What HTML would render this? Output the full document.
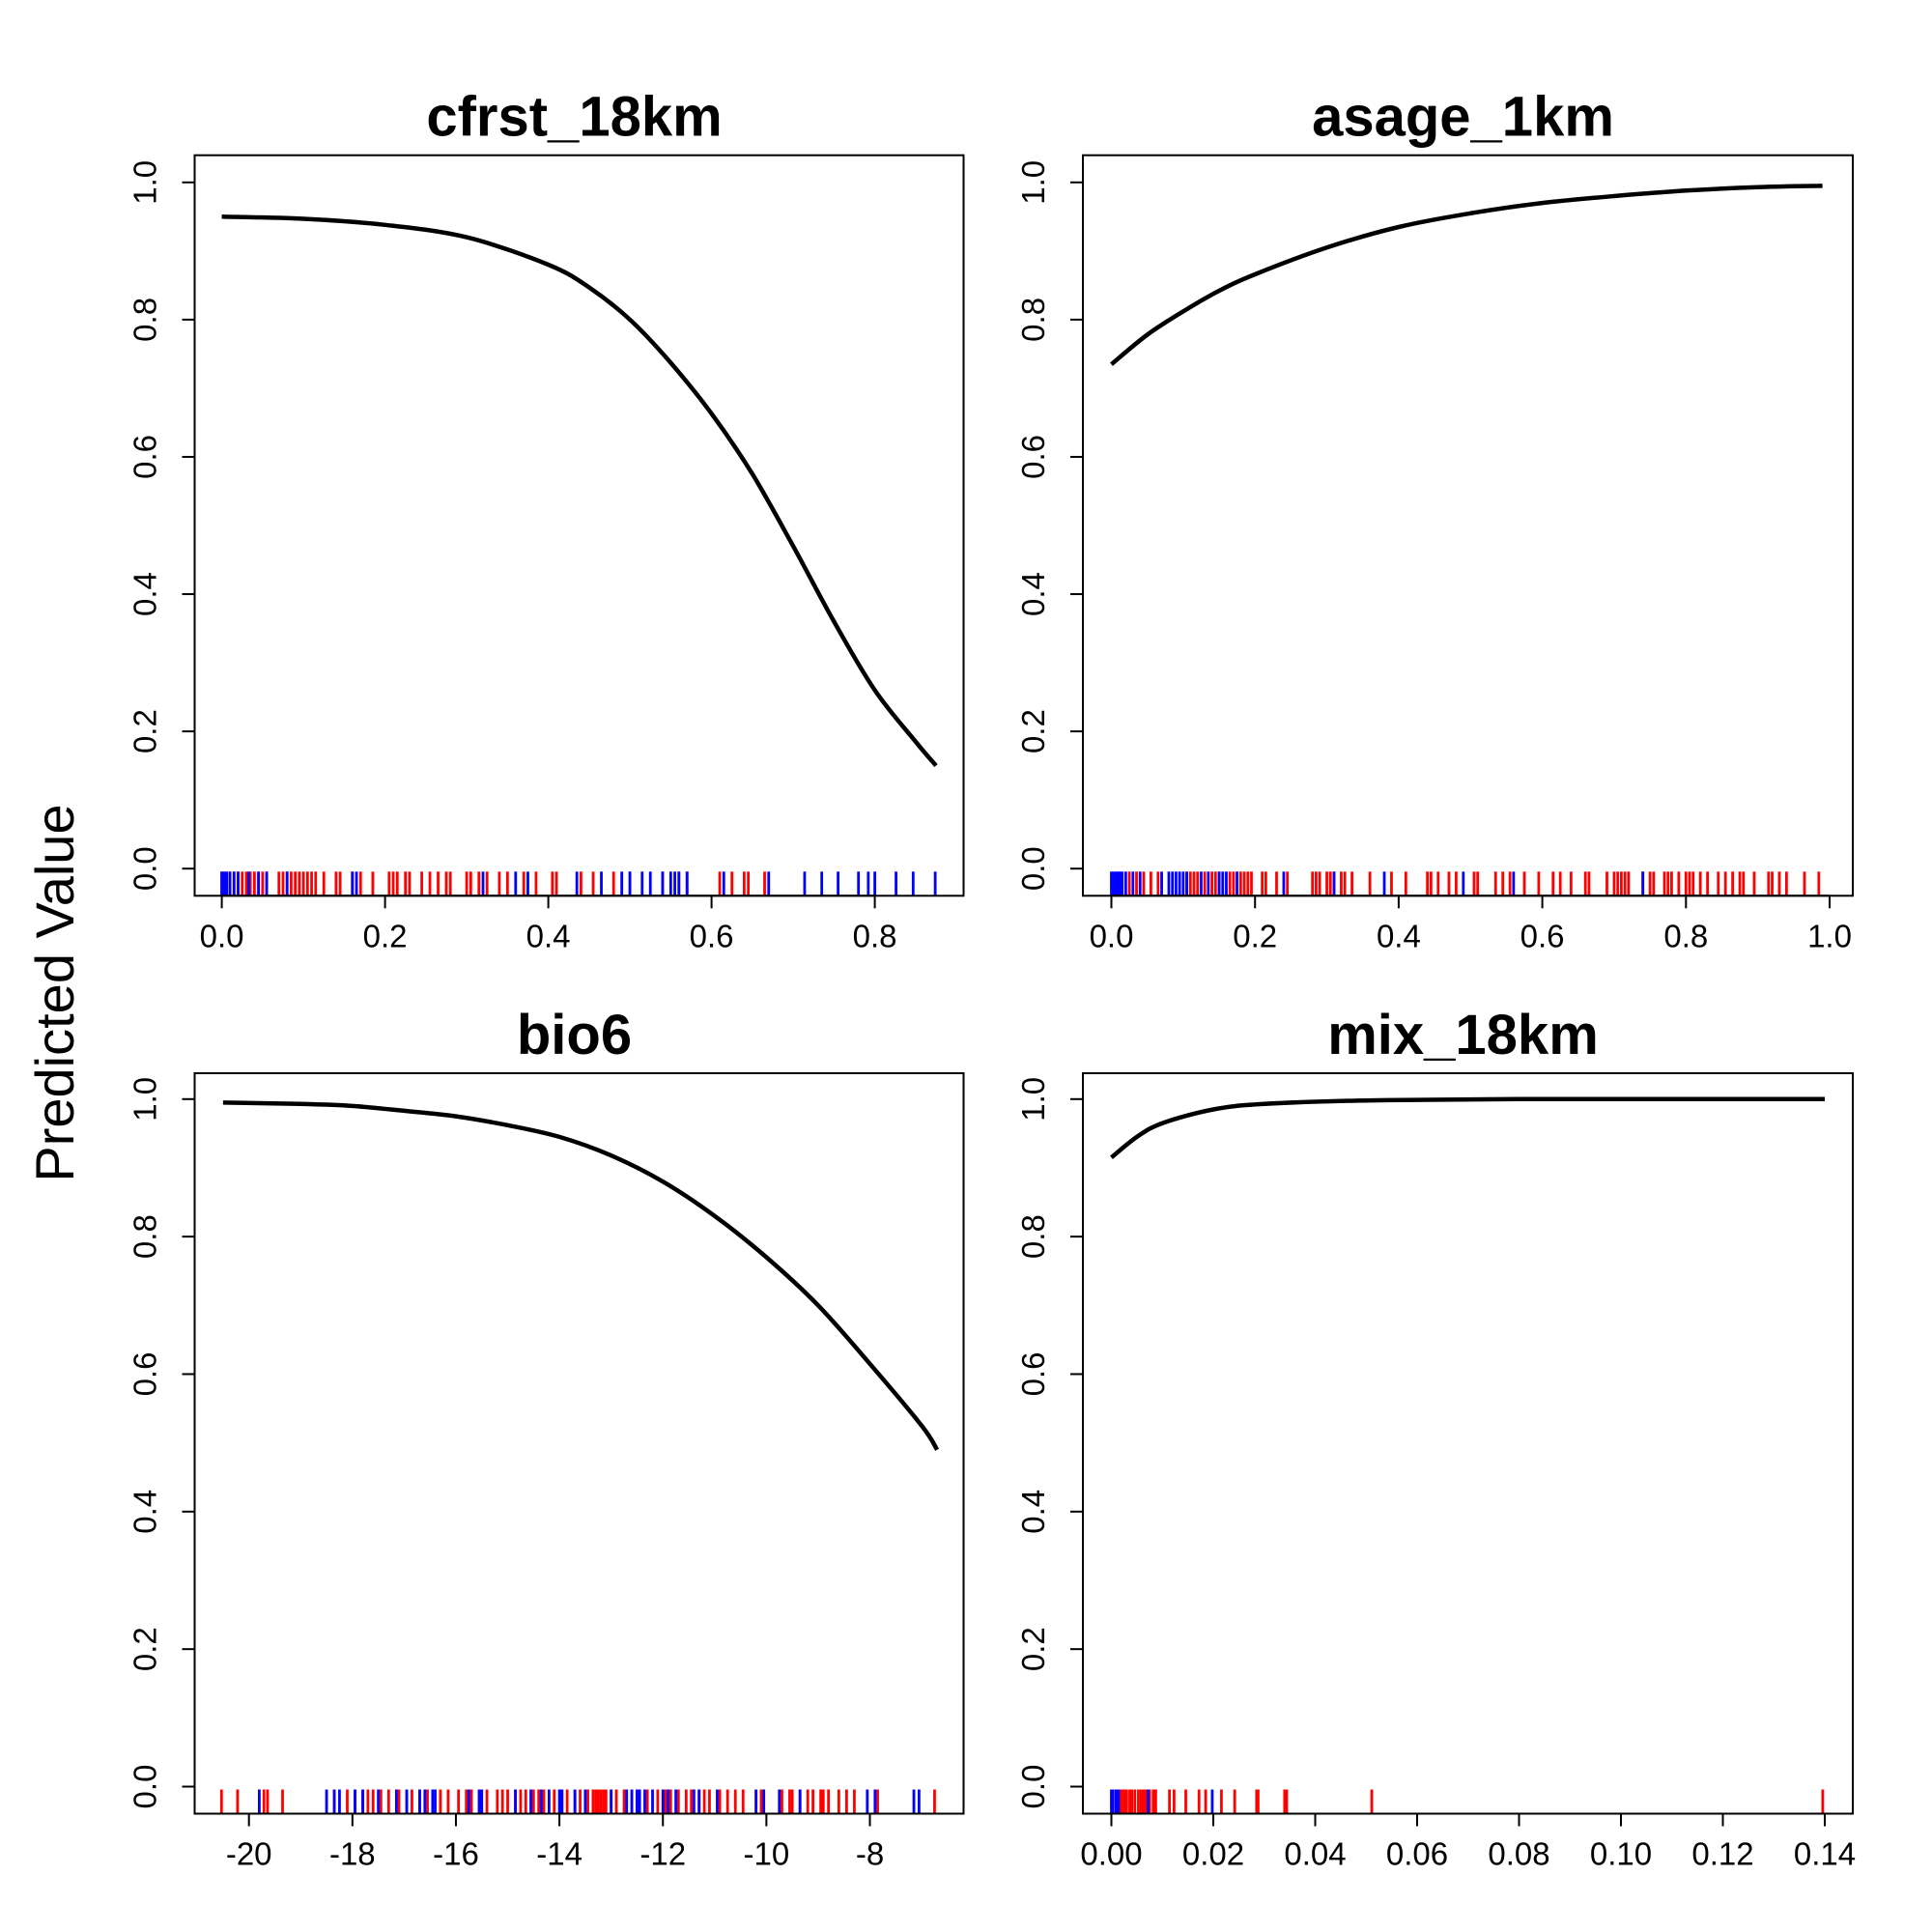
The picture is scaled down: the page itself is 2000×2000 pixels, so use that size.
<!DOCTYPE html>
<html><head><meta charset="utf-8"><style>
html,body{margin:0;padding:0;background:#fff;}
svg{display:block;font-family:"Liberation Sans",Arial,sans-serif;}
</style></head><body>
<svg id="chart" width="2000" height="2000" viewBox="0 0 2000 2000" xmlns="http://www.w3.org/2000/svg">
<rect width="2000" height="2000" fill="#fff"/>
<text x="0" y="0" transform="translate(76,1028) rotate(-90)" text-anchor="middle" font-size="56">Predicted Value</text>
</svg>
<script>
// ---- data ----
const titles = ["cfrst_18km","asage_1km","bio6","mix_18km"];
const p1CurveX = [0,0.1,0.2,0.3,0.4,0.45,0.5,0.55,0.6,0.65,0.7,0.75,0.8,0.85,0.875];
const p1CurveY = [0.95,0.947,0.938,0.92,0.88,0.847,0.80,0.737,0.663,0.575,0.47,0.36,0.26,0.185,0.15];
const p2CurveX = [0,0.05,0.1,0.15,0.2,0.3,0.4,0.5,0.6,0.7,0.8,0.9,0.99];
const p2CurveY = [0.735,0.778,0.812,0.842,0.866,0.905,0.935,0.955,0.97,0.98,0.988,0.993,0.995];
const p3CurveX = [-20.5,-19,-18,-17,-16,-15,-14,-13,-12,-11,-10,-9,-8,-7,-6.7];
const p3CurveY = [0.995,0.993,0.99,0.983,0.975,0.962,0.945,0.918,0.88,0.83,0.77,0.70,0.615,0.525,0.49];
const p4CurveX = [0,0.005,0.01,0.02,0.03,0.05,0.08,0.14];
const p4CurveY = [0.915,0.945,0.965,0.985,0.993,0.998,1.0,1.0];
const p1Red = [0,0.005,0.01,0.015,0.02,0.025,0.03,0.035,0.04,0.045,0.05,0.055,0.07,0.075,0.08,0.085,0.09,0.095,0.1,0.105,0.11,0.115,0.125,0.14,0.145,0.16,0.17,0.185,0.205,0.21,0.215,0.225,0.23,0.245,0.255,0.265,0.275,0.28,0.3,0.305,0.315,0.325,0.34,0.35,0.37,0.385,0.405,0.41,0.44,0.455,0.48,0.5,0.54,0.56,0.57,0.61,0.625,0.64,0.645,0.665];
const p1Blue = [0,0.003,0.006,0.01,0.015,0.02,0.033,0.045,0.055,0.08,0.16,0.165,0.32,0.36,0.375,0.435,0.465,0.49,0.5,0.515,0.525,0.54,0.55,0.555,0.56,0.57,0.615,0.67,0.714,0.735,0.755,0.78,0.792,0.8,0.826,0.847,0.874];
const p2Red = [0.025,0.035,0.045,0.055,0.065,0.105,0.11,0.115,0.12,0.13,0.14,0.145,0.15,0.165,0.17,0.175,0.18,0.185,0.19,0.195,0.21,0.215,0.23,0.245,0.28,0.285,0.29,0.3,0.305,0.31,0.32,0.325,0.335,0.36,0.39,0.41,0.44,0.445,0.455,0.47,0.48,0.505,0.51,0.535,0.545,0.555,0.575,0.595,0.615,0.625,0.64,0.66,0.665,0.69,0.7,0.705,0.71,0.715,0.72,0.74,0.75,0.755,0.77,0.775,0.78,0.79,0.8,0.805,0.81,0.82,0.83,0.845,0.855,0.865,0.875,0.88,0.895,0.915,0.92,0.93,0.94,0.965,0.985];
const p2Blue = [0,0.002,0.005,0.008,0.01,0.012,0.015,0.02,0.03,0.04,0.07,0.08,0.085,0.09,0.095,0.1,0.105,0.125,0.135,0.15,0.155,0.16,0.175,0.24,0.31,0.38,0.49,0.56,0.74];
const p3Red = [-20.53,-20.22,-19.71,-19.64,-19.35,-18.35,-18.1,-17.95,-17.8,-17.7,-17.6,-17.45,-17.3,-17.1,-16.95,-16.85,-16.7,-16.55,-16.3,-16.15,-15.95,-15.8,-15.7,-15.55,-15.4,-15.2,-15.1,-15.0,-14.85,-14.75,-14.65,-14.55,-14.5,-14.4,-14.3,-14.1,-13.95,-13.85,-13.7,-13.6,-13.45,-13.35,-13.3,-13.25,-13.2,-13.15,-13.1,-13.0,-12.9,-12.75,-12.6,-12.5,-12.3,-12.1,-11.95,-11.85,-11.7,-11.55,-11.45,-11.3,-11.2,-11.1,-10.9,-10.75,-10.6,-10.45,-10.2,-10.1,-9.7,-9.55,-9.5,-9.35,-9.2,-9.1,-8.95,-8.9,-8.8,-8.6,-8.45,-8.3,-7.85,-6.75];
const p3Blue = [-19.8,-18.5,-18.35,-18.25,-17.95,-17.8,-17.5,-17.15,-16.95,-16.7,-16.6,-16.45,-16.4,-15.75,-15.55,-15.5,-14.85,-14.55,-14.35,-14.2,-14.0,-13.95,-13.7,-13.5,-13.0,-12.7,-12.6,-12.5,-12.45,-12.35,-12.2,-12.0,-11.9,-11.75,-11.4,-11.3,-10.95,-10.2,-10.05,-9.75,-9.35,-8.05,-7.9,-7.15,-7.05];
const p4Red = [0.0009,0.0017,0.0021,0.0026,0.003,0.0036,0.004,0.0046,0.0053,0.0058,0.0063,0.0068,0.0075,0.0082,0.0087,0.0114,0.0123,0.0146,0.0172,0.0185,0.0216,0.0242,0.0285,0.0288,0.034,0.0344,0.0511,0.1396];
const p4Blue = [0,0.0003,0.0009,0.0014,0.0072,0.0198];
const p1XTicks = [0,0.2,0.4,0.6,0.8];
const p1XLabels = ["0.0","0.2","0.4","0.6","0.8"];
const p2XTicks = [0,0.2,0.4,0.6,0.8,1.0];
const p2XLabels = ["0.0","0.2","0.4","0.6","0.8","1.0"];
const p3XTicks = [-20,-18,-16,-14,-12,-10,-8];
const p3XLabels = ["-20","-18","-16","-14","-12","-10","-8"];
const p4XTicks = [0,0.02,0.04,0.06,0.08,0.10,0.12,0.14];
const p4XLabels = ["0.00","0.02","0.04","0.06","0.08","0.10","0.12","0.14"];
const yTicks = [0,0.2,0.4,0.6,0.8,1.0];
const yLabels = ["0.0","0.2","0.4","0.6","0.8","1.0"];

const NS="http://www.w3.org/2000/svg";
const svg=document.getElementById('chart');
function mk(tag,attrs,parent){const e=document.createElementNS(NS,tag);for(const k in attrs)e.setAttribute(k,attrs[k]);(parent||svg).appendChild(e);return e;}
function smoothPath(P){
 let d='M'+P[0][0].toFixed(1)+','+P[0][1].toFixed(1);
 for(let i=0;i<P.length-1;i++){
  const p0=P[i>0?i-1:i],p1=P[i],p2=P[i+1],p3=P[i+2<P.length?i+2:i+1];
  const c1x=p1[0]+(p2[0]-p0[0])/6,c1y=p1[1]+(p2[1]-p0[1])/6;
  const c2x=p2[0]-(p3[0]-p1[0])/6,c2y=p2[1]-(p3[1]-p1[1])/6;
  d+=` C${c1x.toFixed(1)},${c1y.toFixed(1)} ${c2x.toFixed(1)},${c2y.toFixed(1)} ${p2[0].toFixed(1)},${p2[1].toFixed(1)}`;
 }
 return d;
}

const panels=[
 {box:[201.5,160.7,997.5,927.3],y0:899.2,y1:188.8,xa:0,xb:0.8,pa:229.6,pb:905.6,cx:p1CurveX,cy:p1CurveY,red:p1Red,blue:p1Blue,ticks:p1XTicks,labels:p1XLabels},
 {box:[1121,160.7,1918,927.3],y0:899.2,y1:188.8,xa:0,xb:1,pa:1150.5,pb:1894,cx:p2CurveX,cy:p2CurveY,red:p2Red,blue:p2Blue,ticks:p2XTicks,labels:p2XLabels},
 {box:[201.5,1111,997.5,1877.5],y0:1849.5,y1:1137.8,xa:-20,xb:-8,pa:257.7,pb:900.5,cx:p3CurveX,cy:p3CurveY,red:p3Red,blue:p3Blue,ticks:p3XTicks,labels:p3XLabels},
 {box:[1121,1111,1918,1877.5],y0:1849.5,y1:1137.8,xa:0,xb:0.14,pa:1150.5,pb:1889,cx:p4CurveX,cy:p4CurveY,red:p4Red,blue:p4Blue,ticks:p4XTicks,labels:p4XLabels}
];
panels.forEach((p,i)=>{
 const g=mk('g',{});
 
 
 const sx=v=>p.pa+(v-p.xa)*(p.pb-p.pa)/(p.xb-p.xa);
 const sy=v=>p.y0+(v)*(p.y1-p.y0);
 const [L,T,R,B]=p.box;
 const t=mk('text',{x:(L+R)/2-5,y:T-20,'text-anchor':'middle','font-size':58,'font-weight':'bold'},g);
 t.textContent=titles[i];
 
 
 const rugTop=B-25;
 p.red.forEach(v=>{const l=mk('line',{x1:sx(v),x2:sx(v),y1:rugTop,y2:B,stroke:'#ff0000','stroke-width':2.8},g);
  
  });
 p.blue.forEach(v=>{const l=mk('line',{x1:sx(v),x2:sx(v),y1:rugTop,y2:B,stroke:'#0000ff','stroke-width':2.8},g);
  
  });
 const box=mk('rect',{x:L,y:T,width:R-L,height:B-T,fill:'none',stroke:'#000','stroke-width':2},g);
 
 
 const P=p.cx.map((v,k)=>[sx(v),sy(p.cy[k])]);
 const c=mk('path',{d:smoothPath(P),fill:'none',stroke:'#000','stroke-width':4.5,'stroke-linejoin':'round'},g);
 
 
 const xa=mk('line',{x1:sx(p.ticks[0]),x2:sx(p.ticks[p.ticks.length-1]),y1:B,y2:B,stroke:'#000','stroke-width':2},g);
 
 
 p.ticks.forEach((v,k)=>{
  mk('line',{x1:sx(v),x2:sx(v),y1:B,y2:B+13,stroke:'#000','stroke-width':2},g);
  const tl=mk('text',{x:sx(v),y:B+53,'text-anchor':'middle','font-size':33},g);
  tl.textContent=p.labels[k];
  
  
 });
 const ya=mk('line',{x1:L-13,x2:L-13,y1:sy(0),y2:sy(1),stroke:'none'},g);
 
 
 yTicks.forEach((v,k)=>{
  mk('line',{x1:L-13,x2:L,y1:sy(v),y2:sy(v),stroke:'#000','stroke-width':2},g);
  const tl=mk('text',{x:0,y:0,transform:`translate(${L-40},${sy(v)}) rotate(-90)`,'text-anchor':'middle','font-size':33},g);
  tl.textContent=yLabels[k];
  
  
 });
});
</script>
</body></html>
